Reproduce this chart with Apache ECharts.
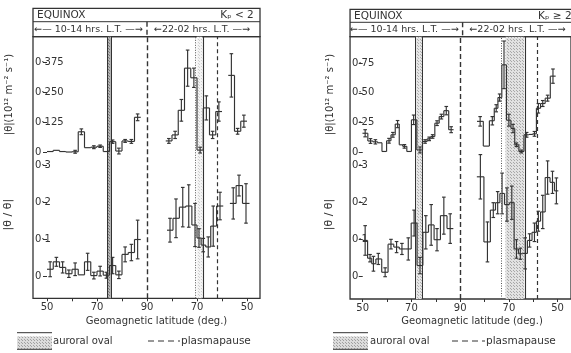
<!DOCTYPE html>
<html>
<head>
<meta charset="utf-8">
<script src="https://cdn.jsdelivr.net/npm/echarts@6/dist/echarts.min.js"></script>
<style>
  html, body { margin: 0; padding: 0; background: #fff; }
  #chart { width: 571px; height: 353px; }
</style>
</head>
<body>
<div id="chart"></div>
<script>
// Position along the satellite pass, in degrees travelled:
// 0 = 50° on the day side (10-14 LT), 40 = 90° (pole), 80 = 50° on the night side (22-02 LT).
const latTickPos  = [0, 10, 20, 30, 40, 50, 60, 70, 80];
const latTickText = ['50', '', '70', '', '90', '', '70', '', '50'];

const calmFluxTicks     = [0, 0.125, 0.25, 0.375];
const calmFluxTickText  = ['0', '0·125', '0·250', '0·375'];
const stormFluxTicks    = [0, 0.25, 0.5, 0.75];
const stormFluxTickText = ['0', '0·25', '0·50', '0·75'];
const ratioTicks        = [0, 0.1, 0.2, 0.3];
const ratioTickText     = ['0', '0·1', '0·2', '0·3'];

// ---- Kp < 2 ----
const calmDayFluxPos  = [1.25, 3.75, 6.25, 8.75, 11.25, 13.75, 16.25, 18.75, 21.25, 23.75, 26.25, 28.75, 31.25, 33.75, 36.25];
const calmDayFlux     = [0.004, 0.009, 0.004, 0.002, 0.003, 0.086, 0.02, 0.022, 0.026, 0.004, 0.045, 0.006, 0.048, 0.046, 0.146];
const calmDayFluxErr  = [0, 0, 0, 0, 0.006, 0.012, 0, 0.006, 0.005, 0, 0.007, 0.012, 0.006, 0.008, 0.014];

const calmNightFluxPos = [48.75, 51.25, 53.75, 56.25, 58.75, 61.25, 63.75, 66.25, 68.75, 71.25, 73.75, 76.25, 78.75];
const calmNightFlux    = [0.048, 0.073, 0.175, 0.35, 0.31, 0.01, 0.185, 0.073, 0.17, null, 0.32, 0.088, 0.13];
const calmNightFluxErr = [0.01, 0.015, 0.045, 0.075, 0.04, 0.012, 0.05, 0.015, 0.04, 0, 0.09, 0.012, 0.025];

const calmDayRatioPos = [1.25, 3.75, 6.25, 8.75, 11.25, 13.75, 16.25, 18.75, 21.25, 23.75, 26.25, 28.75, 31.25, 33.75, 36.25];
const calmDayRatio    = [0.02, 0.04, 0.025, 0.008, 0.02, 0.005, 0.04, 0.003, 0.015, 0.004, 0.03, 0.005, 0.06, 0.065, 0.1];
const calmDayRatioErr = [0.02, 0.012, 0.015, 0.01, 0.017, 0, 0.023, 0.009, 0.013, 0.008, 0.022, 0.01, 0.02, 0.022, 0.052];

const calmNightRatioPos = [49.2, 51.6, 54.3, 56.7, 59.2, 60.8, 62.5, 64.5, 66.5, 69.2, 71.8, 74.5, 76.8, 79.6];
const calmNightRatio    = [0.125, 0.157, 0.187, 0.19, 0.139, 0.104, 0.085, 0.08, 0.136, 0.19, null, 0.197, 0.245, 0.197];
const calmNightRatioErr = [0.032, 0.052, 0.053, 0.057, 0.058, 0.025, 0.018, 0.027, 0.054, 0.037, 0, 0.042, 0.028, 0.053];

// ---- Kp >= 2 ----
const stormDayFluxPos = [1.0, 3.2, 5.2, 7.0, 8.8, 10.8, 12.4, 14.3, 15.7, 17.1, 19.1, 20.9, 23.5, 25.6, 27.3, 28.7, 30.5, 32.3, 34.3, 36.3];
const stormDayFlux    = [0.16, 0.095, 0.088, 0.08, 0.007, 0.097, 0.147, 0.237, 0.063, 0.05, 0.007, 0.273, 0.02, 0.091, 0.113, 0.133, 0.245, 0.30, 0.35, 0.19];
const stormDayFluxErr = [0.03, 0.02, 0.018, 0, 0, 0.02, 0.02, 0.03, 0, 0.015, 0, 0.04, 0.025, 0.015, 0.015, 0.015, 0.02, 0.02, 0.035, 0.025];

const stormNightFluxPos = [48.2, 50.8, 53.2, 54.8, 56.2, 58.0, 60.0, 61.7, 63.1, 65.1, 67.3, 69.1, 70.5, 72.1, 73.9, 75.9, 78.1];
const stormNightFlux    = [0.26, 0.052, 0.265, 0.37, 0.46, 0.735, 0.27, 0.2, 0.063, 0.007, 0.147, 0.15, 0.155, 0.37, 0.41, 0.455, 0.64];
const stormNightFluxErr = [0.04, 0, 0.035, 0.03, 0.03, 0.2, 0.05, 0.035, 0.015, 0.012, 0.02, 0, 0.02, 0.04, 0.025, 0.025, 0.06];

const stormDayRatioPos = [1.0, 3.0, 4.4, 6.4, 9.2, 11.6, 13.9, 16.1, 18.7, 21.1, 23.5, 25.9, 28.1, 30.5, 33.3, 35.9];
const stormDayRatio    = [0.098, 0.05, 0.035, 0.048, 0.012, 0.088, 0.08, 0.075, 0.075, 0.145, 0.03, 0.12, 0.14, 0.1, 0.165, 0.13];
const stormDayRatioErr = [0.04, 0.01, 0.02, 0.015, 0.012, 0.013, 0.015, 0.015, 0.03, 0.035, 0.022, 0.045, 0.055, 0.03, 0.05, 0.04];

const stormNightRatioPos = [48.3, 51.2, 53.6, 55.4, 57.2, 59.2, 61.2, 63.1, 64.7, 66.7, 68.5, 70.5, 72.1, 73.9, 75.9, 77.9, 79.5];
const stormNightRatio    = [0.27, 0.094, 0.18, 0.2, 0.225, 0.195, 0.2, 0.075, 0.062, 0.063, 0.098, 0.12, 0.15, 0.175, 0.268, 0.255, 0.232];
const stormNightRatioErr = [0.06, 0.054, 0.02, 0.03, 0.055, 0.045, 0.045, 0.025, 0.015, 0.042, 0.018, 0.025, 0.027, 0.045, 0.045, 0.03, 0.035];

// Boundaries (pass degrees)
const calmBounds  = { dayOval: [24.2, 25.6], nightOvalDotted: 59.4, nightOvalFill: [59.9, 62.1], nightOvalSolid: 62.5, plasmapause: 67.9 };
const stormBounds = { dayOval: [21.6, 24.5], nightOvalDotted: 56.7, nightOvalFill: [58.6, 66.3], nightOvalSolid: 66.7, plasmapause: 71.8 };

const INK = '#333333';
const FONT = 'DejaVu Sans';
const NO_PREV = -999;

function stipple(bg, dot, size) {
  const c = document.createElement('canvas');
  c.width = size; c.height = size;
  const g = c.getContext('2d');
  g.fillStyle = bg; g.fillRect(0, 0, size, size);
  g.fillStyle = dot;
  g.fillRect(0, 0, 1, 1);
  g.fillRect(Math.floor(size / 2), Math.floor(size / 2), 1, 1);
  return { image: c, repeat: 'repeat' };
}

// Histogram steps with error bars: each item carries its bin edges and the previous bin's value
function steps(pos, vals, errs) {
  const out = [];
  for (let i = 0; i < pos.length; i++) {
    if (vals[i] == null) continue;
    const back = i > 0 ? pos[i] - pos[i - 1] : pos[i + 1] - pos[i];
    const fwd = i < pos.length - 1 ? pos[i + 1] - pos[i] : pos[i] - pos[i - 1];
    const prev = (i > 0 && vals[i - 1] != null) ? vals[i - 1] : NO_PREV;
    out.push([pos[i], vals[i], errs[i], pos[i] - back / 2, pos[i] + fwd / 2, prev]);
  }
  return out;
}

function renderStep(params, api) {
  const t = api.value(0), v = api.value(1), e = api.value(2);
  const l = api.value(3), r = api.value(4), pv = api.value(5);
  const st = { stroke: INK, lineWidth: 1.15, fill: null };
  const kids = [];
  const a = api.coord([l, v]), b = api.coord([r, v]);
  kids.push({ type: 'line', shape: { x1: a[0], y1: a[1], x2: b[0], y2: b[1] }, style: st });
  if (pv > NO_PREV + 1) {
    const q = api.coord([l, pv]);
    kids.push({ type: 'line', shape: { x1: q[0], y1: q[1], x2: a[0], y2: a[1] }, style: st });
  }
  if (e > 0) {
    const hi = api.coord([t, v + e]), lo = api.coord([t, v - e]);
    const cw = 1.8;
    kids.push({ type: 'line', shape: { x1: hi[0], y1: hi[1], x2: lo[0], y2: lo[1] }, style: st });
    kids.push({ type: 'line', shape: { x1: hi[0] - cw, y1: hi[1], x2: hi[0] + cw, y2: hi[1] }, style: st });
    kids.push({ type: 'line', shape: { x1: lo[0] - cw, y1: lo[1], x2: lo[0] + cw, y2: lo[1] }, style: st });
  }
  return { type: 'group', children: kids };
}

function tickFormatter(ticks, text) {
  return function (v) {
    for (let i = 0; i < ticks.length; i++) if (Math.abs(v - ticks[i]) < 1e-9) return text[i];
    return '';
  };
}

const panels = [
  {
    x0: 47, ppd: 2.5, tMin: -5.6, tMax: 85.2,
    head: 8.3, headMid: 21.7, top: 36.7, zeroFlux: 152.5, zeroRatio: 276.7, bottom: 298.3,
    fluxPx: 241, ratioPx: 372, titleGap: 19,
    fluxTicks: calmFluxTicks, fluxTickText: calmFluxTickText,
    kp: 'Kₚ < 2', kpAt: 69.3,
    bounds: calmBounds,
    dayOvalFill: stipple('#b4b4b4', '#7a7a7a', 3),
    nightOvalFillColor: stipple('#f4f4f4', '#cfcfcf', 3),
    series: [
      ['flux', calmDayFluxPos, calmDayFlux, calmDayFluxErr],
      ['flux', calmNightFluxPos, calmNightFlux, calmNightFluxErr],
      ['ratio', calmDayRatioPos, calmDayRatio, calmDayRatioErr],
      ['ratio', calmNightRatioPos, calmNightRatio, calmNightRatioErr]
    ],
    legendBox: [17, 52], legendText: 53, ppDash: [148, 180], ppText: 181
  },
  {
    x0: 363, ppd: 2.49, tMin: -5.2, tMax: 85.5,
    head: 9.3, headMid: 22.3, top: 36.7, zeroFlux: 152.3, zeroRatio: 276.7, bottom: 299,
    fluxPx: 119, ratioPx: 370, titleGap: 15,
    fluxTicks: stormFluxTicks, fluxTickText: stormFluxTickText,
    kp: 'Kₚ ≥ 2', kpAt: 70.3,
    bounds: stormBounds,
    dayOvalFill: stipple('#e6e6e6', '#b0b0b0', 3),
    nightOvalFillColor: stipple('#e2e2e2', '#a8a8a8', 3),
    series: [
      ['flux', stormDayFluxPos, stormDayFlux, stormDayFluxErr],
      ['flux', stormNightFluxPos, stormNightFlux, stormNightFluxErr],
      ['ratio', stormDayRatioPos, stormDayRatio, stormDayRatioErr],
      ['ratio', stormNightRatioPos, stormNightRatio, stormNightRatioErr]
    ],
    legendBox: [333, 368], legendText: 370, ppDash: [452, 485], ppText: 486
  }
];

const option = {
  animation: false,
  backgroundColor: '#ffffff',
  textStyle: { fontFamily: FONT },
  grid: [], xAxis: [], yAxis: [], series: [], graphic: []
};

panels.forEach(function (p, k) {
  const px = function (t) { return p.x0 + t * p.ppd; };
  const left = px(p.tMin), right = px(p.tMax), width = right - left;
  const g0 = k * 3;
  const labelStyle = { color: INK, fontFamily: FONT, fontSize: 10 };

  // frame
  option.grid.push({ left: left, top: p.top, width: width, height: p.bottom - p.top,
    show: true, borderColor: INK, borderWidth: 1.3, backgroundColor: 'transparent' });
  // flux panel (zero on its lower edge)
  option.grid.push({ left: left, top: p.top, width: width, height: p.zeroFlux - p.top });
  // ratio panel (zero on its lower edge)
  option.grid.push({ left: left, top: p.zeroFlux, width: width, height: p.zeroRatio - p.zeroFlux });

  option.xAxis.push({
    type: 'value', gridIndex: g0, min: p.tMin, max: p.tMax,
    axisLine: { show: false }, splitLine: { show: false },
    axisTick: { show: true, customValues: latTickPos, length: 3, lineStyle: { color: INK, width: 1 } },
    axisLabel: { customValues: latTickPos, formatter: tickFormatter(latTickPos, latTickText), margin: 4, ...labelStyle }
  });
  for (let j = 1; j <= 2; j++) {
    option.xAxis.push({ type: 'value', gridIndex: g0 + j, min: p.tMin, max: p.tMax, show: false });
  }

  option.yAxis.push({ type: 'value', gridIndex: g0, min: 0, max: 1, show: false });
  option.yAxis.push({
    type: 'value', gridIndex: g0 + 1, min: 0, max: (p.zeroFlux - p.top) / p.fluxPx,
    axisLine: { show: false }, splitLine: { show: false },
    axisTick: { show: true, customValues: p.fluxTicks, length: 4, lineStyle: { color: INK, width: 1 } },
    axisLabel: { customValues: p.fluxTicks, inside: true, margin: 2, formatter: tickFormatter(p.fluxTicks, p.fluxTickText), ...labelStyle },
    name: '|θ|(10¹² m⁻² s⁻¹)', nameLocation: 'middle', nameRotate: 90, nameGap: p.titleGap,
    nameTextStyle: { color: INK, fontFamily: FONT, fontSize: 10 }
  });
  option.yAxis.push({
    type: 'value', gridIndex: g0 + 2, min: 0, max: (p.zeroRatio - p.zeroFlux) / p.ratioPx,
    axisLine: { show: false }, splitLine: { show: false },
    axisTick: { show: true, customValues: ratioTicks, length: 4, lineStyle: { color: INK, width: 1 } },
    axisLabel: { customValues: ratioTicks, inside: true, margin: 2, formatter: tickFormatter(ratioTicks, ratioTickText), ...labelStyle },
    name: '|θ / θ|', nameLocation: 'middle', nameRotate: 90, nameGap: p.titleGap,
    nameTextStyle: { color: INK, fontFamily: FONT, fontSize: 11 }
  });

  const b = p.bounds;
  // boundaries spanning the full frame height
  option.series.push({
    type: 'line', xAxisIndex: g0, yAxisIndex: g0, data: [[0, -1]], symbol: 'none',
    lineStyle: { opacity: 0 }, silent: true,
    markArea: {
      silent: true,
      data: [
        [{ xAxis: b.dayOval[0], itemStyle: { color: p.dayOvalFill } }, { xAxis: b.dayOval[1] }],
        [{ xAxis: b.nightOvalFill[0], itemStyle: { color: p.nightOvalFillColor } }, { xAxis: b.nightOvalFill[1] }]
      ]
    },
    markLine: {
      silent: true, symbol: 'none', label: { show: false },
      data: [
        { xAxis: b.dayOval[0], lineStyle: { color: INK, width: 1, type: 'solid' } },
        { xAxis: b.dayOval[1], lineStyle: { color: INK, width: 1, type: 'solid' } },
        { xAxis: 40, lineStyle: { color: INK, width: 1.4, type: [5, 3] } },
        { xAxis: b.nightOvalDotted, lineStyle: { color: '#555', width: 1, type: [1, 1.5] } },
        { xAxis: b.nightOvalSolid, lineStyle: { color: INK, width: 1.1, type: 'solid' } },
        { xAxis: b.plasmapause, lineStyle: { color: INK, width: 1.2, type: [4, 3] } }
      ]
    }
  });

  p.series.forEach(function (s) {
    const gi = s[0] === 'flux' ? g0 + 1 : g0 + 2;
    option.series.push({
      type: 'custom', xAxisIndex: gi, yAxisIndex: gi, clip: false, silent: true,
      renderItem: renderStep, encode: { x: 0, y: 1 },
      data: steps(s[1], s[2], s[3])
    });
  });

  // header boxes
  const mid = px(40);
  option.graphic.push(
    { type: 'rect', shape: { x: left, y: p.head, width: width, height: p.top - p.head },
      style: { fill: 'none', stroke: INK, lineWidth: 1.3 }, silent: true },
    { type: 'line', shape: { x1: left, y1: p.headMid, x2: right, y2: p.headMid },
      style: { stroke: INK, lineWidth: 1 }, silent: true },
    { type: 'line', shape: { x1: mid, y1: p.headMid, x2: mid, y2: p.top },
      style: { stroke: INK, lineWidth: 1.4, lineDash: [5, 3] }, silent: true },
    { type: 'text', x: left + 4, y: (p.head + p.headMid) / 2,
      style: { text: 'EQUINOX', fill: INK, font: '10.5px "DejaVu Sans"', verticalAlign: 'middle' }, silent: true },
    { type: 'text', x: px(p.kpAt), y: (p.head + p.headMid) / 2,
      style: { text: p.kp, fill: INK, font: '10.5px "DejaVu Sans"', verticalAlign: 'middle' }, silent: true },
    { type: 'text', x: px(16.6), y: (p.headMid + p.top) / 2,
      style: { text: '←— 10-14 hrs. L.T. —→', fill: INK, font: '9.5px "DejaVu Sans"', align: 'center', verticalAlign: 'middle' }, silent: true },
    { type: 'text', x: px(62), y: (p.headMid + p.top) / 2,
      style: { text: '←22-02 hrs. L.T. —→', fill: INK, font: '9.5px "DejaVu Sans"', align: 'center', verticalAlign: 'middle' }, silent: true },
    { type: 'text', x: px(43.8), y: 321,
      style: { text: 'Geomagnetic latitude (deg.)', fill: INK, font: '10px "DejaVu Sans"', align: 'center', verticalAlign: 'middle' }, silent: true }
  );

  // legend
  const lb = p.legendBox;
  option.graphic.push(
    { type: 'rect', shape: { x: lb[0], y: 336.5, width: lb[1] - lb[0], height: 12.5 },
      style: { fill: stipple('#dcdcdc', '#a0a0a0', 3), stroke: 'none' }, silent: true },
    { type: 'line', shape: { x1: lb[0], y1: 332.7, x2: lb[1], y2: 332.7 }, style: { stroke: INK, lineWidth: 1 }, silent: true },
    { type: 'line', shape: { x1: lb[0], y1: 349.3, x2: lb[1], y2: 349.3 }, style: { stroke: INK, lineWidth: 1 }, silent: true },
    { type: 'text', x: p.legendText, y: 341,
      style: { text: 'auroral oval', fill: INK, font: '10px "DejaVu Sans"', verticalAlign: 'middle' }, silent: true },
    { type: 'line', shape: { x1: p.ppDash[0], y1: 341, x2: p.ppDash[1], y2: 341 },
      style: { stroke: INK, lineWidth: 1, lineDash: [6, 4] }, silent: true },
    { type: 'text', x: p.ppText, y: 341,
      style: { text: 'plasmapause', fill: INK, font: '10.5px "DejaVu Sans"', verticalAlign: 'middle' }, silent: true }
  );
});

const chart = echarts.init(document.getElementById('chart'), null, { renderer: 'canvas' });
chart.setOption(option);
</script>
</body>
</html>
